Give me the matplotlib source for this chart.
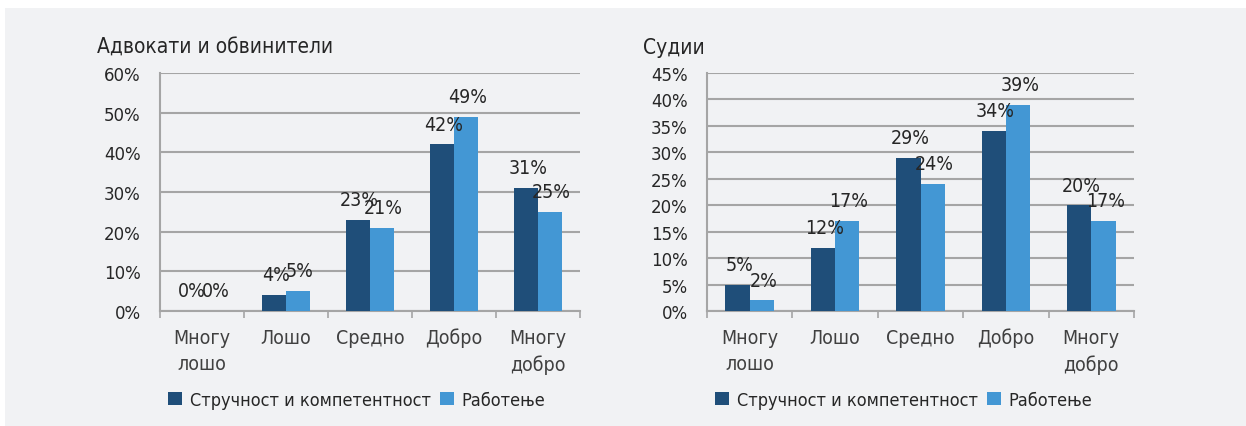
import matplotlib.pyplot as plt
import numpy as np
from matplotlib.patches import Rectangle

# categories and values (fractions shown as percent)
categories = ['Многу\nлошо', 'Лошо', 'Средно', 'Добро', 'Многу\nдобро']
series_names = ['Стручност и компетентност', 'Работење']

lawyers_expert = [0, 4, 23, 42, 31]
lawyers_work = [0, 5, 21, 49, 25]
judges_expert = [5, 12, 29, 34, 20]
judges_work = [2, 17, 24, 39, 17]

dark = '#1f4e79'
light = '#4397d4'
panel_bg = '#f1f2f4'
grid_col = '#a5a5a5'
text_col = '#262626'

narrow = dict(family='DejaVu Sans', stretch='condensed')

fig = plt.figure(figsize=(12.46, 4.27), dpi=100)
fig.patch.set_facecolor('white')
fig.patches.append(Rectangle((5 / 1246, 0), 1, 1 - 9 / 427, transform=fig.transFigure,
                             facecolor=panel_bg, edgecolor='none', zorder=-10))

W = 1246
H = 427


def draw_panel(rect, title, a, b, ymax, ystep):
    ax = fig.add_axes(rect)
    ax.set_facecolor(panel_bg)
    x = np.arange(len(categories))
    w = 0.285
    bars_a = ax.bar(x - w / 2, a, w, color=dark, zorder=3)
    bars_b = ax.bar(x + w / 2, b, w, color=light, zorder=3)
    off = ymax * 0.045
    for xi, v in zip(x, a):
        ax.text(xi - w / 2 + 0.02, v + off, f'{v}%', ha='center', va='bottom',
                fontsize=14, color=text_col, zorder=4, **narrow)
    for xi, v in zip(x, b):
        ax.text(xi + w / 2 + 0.02, v + off, f'{v}%', ha='center', va='bottom',
                fontsize=14, color=text_col, zorder=4, **narrow)
    ax.set_xlim(-0.5, len(categories) - 0.5)
    ax.set_ylim(0, ymax)
    yt = np.arange(0, ymax + 0.1, ystep)
    ax.set_yticks(yt)
    ax.set_yticklabels([f'{int(t)}%' for t in yt], fontsize=12, color=text_col)
    ax.yaxis.grid(True, color=grid_col, lw=1.5, zorder=0)
    ax.tick_params(axis='y', length=0, pad=14)
    ax.set_xticks(np.arange(-0.5, len(categories), 1))
    ax.set_xticklabels([])
    ax.set_xticks(x, minor=True)
    ax.set_xticklabels(categories, minor=True, fontsize=14, color='#404040',
                       linespacing=1.5, va='top', **narrow)
    ax.tick_params(axis='x', which='major', length=5, color=grid_col, width=1.2)
    ax.tick_params(axis='x', which='minor', length=0, pad=12)
    for s in ['top', 'right']:
        ax.spines[s].set_visible(False)
    for s in ['left', 'bottom']:
        ax.spines[s].set_color(grid_col)
        ax.spines[s].set_linewidth(1.5)
    ax.set_title(title, loc='left', x=-0.15, y=1.05, fontsize=15, color=text_col, **narrow)
    # legend under the plot, one entry at a time
    x0 = rect[0] * W
    for bars, name, px in [(bars_a, series_names[0], x0 + 8), (bars_b, series_names[1], x0 + 280)]:
        leg = fig.legend([bars], [name], loc='center left',
                         bbox_to_anchor=(px / W, 1 - 401 / H), borderaxespad=0,
                         borderpad=0, frameon=False, handlelength=0.75, handleheight=0.75,
                         handletextpad=0.45, prop=dict(size=13, **narrow))
        for t in leg.get_texts():
            t.set_color(text_col)
    return ax


draw_panel([160 / W, 1 - 312 / H, 420 / W, 238 / H], 'Адвокати и обвинители',
           lawyers_expert, lawyers_work, 60, 10)
draw_panel([707 / W, 1 - 312 / H, 427 / W, 238 / H], 'Судии',
           judges_expert, judges_work, 45, 5)

fig.savefig('out.png', dpi=100, facecolor=fig.get_facecolor())
